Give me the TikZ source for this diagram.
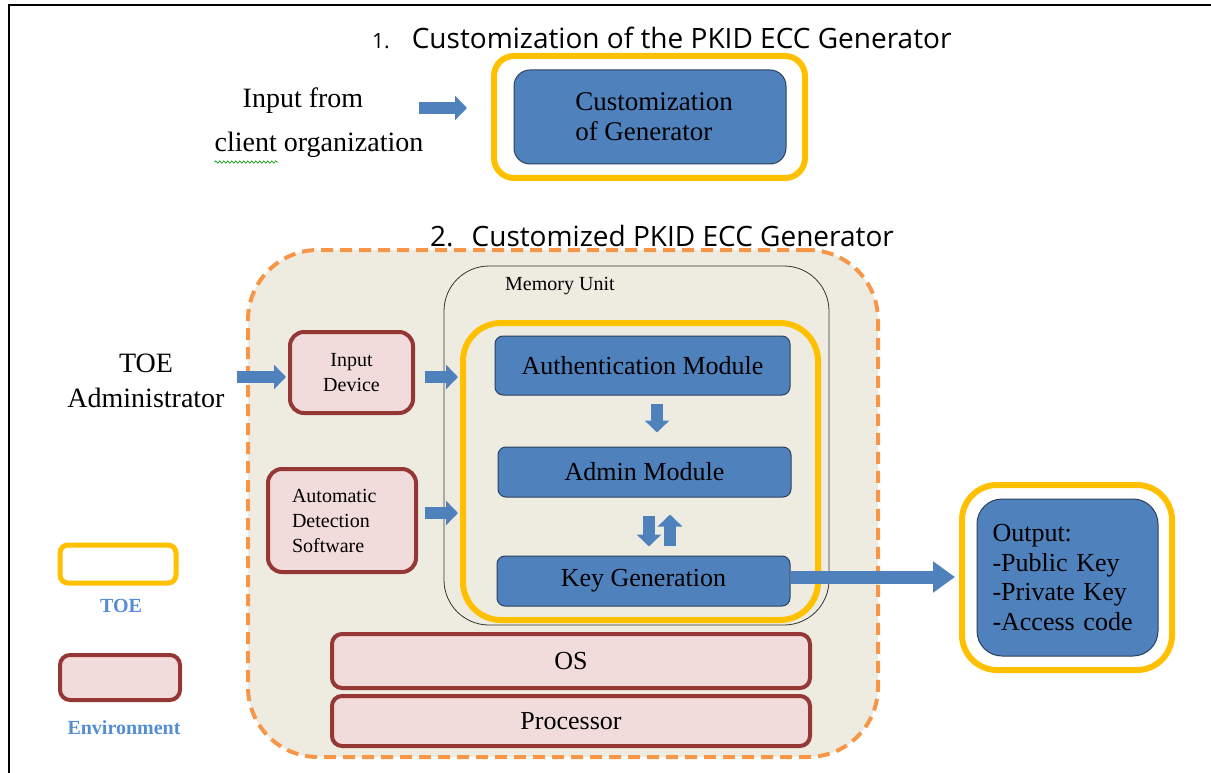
\documentclass[tikz,border=0pt]{standalone}
\usepackage{fontspec}
\setmainfont{Liberation Serif}
\newfontfamily\titlefont{Open Sans}
\usetikzlibrary{arrows.meta,decorations.pathmorphing}

\definecolor{toeyellow}{RGB}{255,192,0}
\definecolor{modblue}{RGB}{79,129,189}
\definecolor{modborder}{RGB}{45,65,95}
\definecolor{envpink}{RGB}{242,220,219}
\definecolor{envborder}{RGB}{149,55,53}
\definecolor{areabeige}{RGB}{238,236,225}
\definecolor{areaorange}{RGB}{247,150,70}
\definecolor{legblue}{RGB}{84,141,212}

\begin{document}
\begin{tikzpicture}[x=1pt,y=-1pt,
	toe/.style={draw=toeyellow,line width=6pt,rounded corners=#1},
	toe/.default=20pt,
	module/.style={draw=modborder,fill=modblue,line width=1pt,rounded corners=8pt,
		font=\fontsize{26}{30}\selectfont},
	env/.style={draw=envborder,fill=envpink,line width=4pt,rounded corners=14pt},
	blockarrow/.style={draw=modblue,line width=12pt,-{Triangle[length=12pt,width=24pt]}},
	bigarrow/.style={draw=modblue,line width=13pt,-{Triangle[length=22pt,width=30pt]}},
	legtext/.style={text=legblue,font=\bfseries\fontsize{20}{24}\selectfont},
	spellwave/.style={draw=green!60!black,line width=0.6pt,decorate,
		decoration={snake,amplitude=1.2pt,segment length=4pt}}]
	\useasboundingbox (0,0) rectangle (1211,773);
	\draw[line width=2.5pt] (9,773) -- (9,5) -- (1211,5);

	\node (title1) at (372,38) [anchor=west,inner sep=0pt,font=\titlefont\fontsize{28}{32}\selectfont]
		{{\fontsize{21}{24}\selectfont 1.}\hspace{22pt}Customization of the PKID ECC Generator};
	\node (inputtxt) at (319,123) [align=left,inner sep=0pt,font=\fontsize{28}{44}\selectfont]
		{\hspace*{28pt}Input from\\client organization};
	\node (custtoe) at (649.5,117) [toe,minimum width=311pt,minimum height=122pt] {};
	\node (custgen) at (650,117) [module,rounded corners=16pt,minimum width=272pt,minimum height=94pt,
		align=left,font=\fontsize{27}{30}\selectfont] {\hspace*{8pt}Customization\\\hspace*{8pt}of Generator};

	\node (title2) at (430,236) [anchor=west,inner sep=0pt,font=\titlefont\fontsize{28}{32}\selectfont]
		{2.\hspace{18pt}Customized PKID ECC Generator};
	\node (area) at (563,503.5) [draw=areaorange,fill=areabeige,line width=4pt,dash pattern=on 12pt off 7pt,
		rounded corners=70pt,minimum width=630pt,minimum height=507pt] {};
	\node (memunit) at (636.5,445.5) [draw=black!80,line width=0.8pt,rounded corners=45pt,
		minimum width=385pt,minimum height=359pt] {};
	\node (memtxt) at (505,286) [anchor=west,inner sep=0pt,font=\fontsize{20}{22}\selectfont] {Memory Unit};
	\node (toein) at (640.5,471.5) [toe=38pt,minimum width=355pt,minimum height=297pt] {};
	\node (auth) at (642.5,365.5) [module,minimum width=295pt,minimum height=59pt] {Authentication Module};
	\node (admin) at (644.5,472) [module,minimum width=293pt,minimum height=50pt] {Admin Module};
	\node (keygen) at (643.5,581) [module,minimum width=293pt,minimum height=50pt] {Key Generation};

	\node (indev) at (351.5,372.5) [env,minimum width=123pt,minimum height=81pt,align=center,
		font=\fontsize{20}{25}\selectfont] {Input\\Device};
	\node (autodet) at (342,520.5) [env,minimum width=148pt,minimum height=103pt,text width=100pt,
		align=left,font=\fontsize{20}{25}\selectfont] {Automatic\\Detection\\Software};
	\node (os) at (571,661) [env,rounded corners=10pt,minimum width=478pt,minimum height=54pt,
		font=\fontsize{26}{30}\selectfont] {OS};
	\node (proc) at (571,721) [env,rounded corners=10pt,minimum width=478pt,minimum height=50pt,
		font=\fontsize{26}{30}\selectfont] {Processor};

	\node (toeadmin) at (146,381) [align=center,inner sep=0pt,font=\fontsize{28}{35}\selectfont]
		{TOE\\Administrator};

	\node (outtoe) at (1067,577.5) [toe=35pt,minimum width=210pt,minimum height=185pt] {};
	\node (outbox) at (1067.5,577.5) [module,rounded corners=25pt,minimum width=181pt,minimum height=157pt,
		text width=150pt,align=left,font=\fontsize{26}{29.5}\selectfont]
		{Output:\\-Public Key\\-Private Key\\-Access code};

	\node (toeleg) at (118,564) [toe=8pt,line width=5pt,fill=white,minimum width=116pt,minimum height=38pt] {};
	\node (toelegtxt) at (121,606) [legtext] {TOE};
	\node (envleg) at (120,677.5) [env,rounded corners=10pt,minimum width=120pt,minimum height=45pt] {};
	\node (envlegtxt) at (124,728) [legtext] {Environment};

	\draw[spellwave] ([yshift=-4pt]inputtxt.south west) -- ++(64,0);
	\draw[blockarrow] ([xshift=-5pt,yshift=15pt]inputtxt.east) -- ([yshift=15pt]inputtxt.east -| custtoe.west)
		[shorten >=24pt];
	\draw[blockarrow,shorten >=2pt] ([xshift=12pt,yshift=4pt]toeadmin.east) -- ([yshift=-4.5pt]indev.west);
	\draw[blockarrow,shorten <=10pt,shorten >=2pt] ([yshift=-4.5pt]indev.east) -- ([yshift=-4.5pt]indev.east -| toein.west);
	\draw[blockarrow,shorten <=7pt,shorten >=2pt] ([yshift=7.5pt]autodet.east) -- ([yshift=7.5pt]autodet.east -| toein.west);
	\draw[blockarrow,shorten <=8pt,shorten >=14pt] ([xshift=14.5pt]auth.south) -- ([xshift=14.5pt]auth.south |- admin.north);
	\draw[blockarrow,shorten <=18pt,shorten >=9pt] ([xshift=4.5pt]admin.south) -- ([xshift=4.5pt]admin.south |- keygen.north);
	\draw[blockarrow,shorten <=10pt,shorten >=17pt] ([xshift=26.5pt]keygen.north) -- ([xshift=26.5pt]keygen.north |- admin.south);
	\draw[bigarrow,shorten >=4pt] ([yshift=4pt]keygen.east) -- ([yshift=4pt]keygen.east -| outtoe.west);
\end{tikzpicture}
\end{document}
